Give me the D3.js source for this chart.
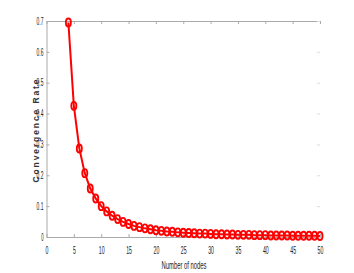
<!DOCTYPE html>
<html>
<head>
<meta charset="utf-8">
<script src="https://cdn.jsdelivr.net/npm/d3@7"></script>
<style>
  body { margin: 0; background: #fff; }
  text { font-family: "Liberation Sans Narrow", "Liberation Sans", Arial, sans-serif; fill: #222; }
</style>
</head>
<body>
<script>
// data
const nodes = d3.range(4, 51);
const rate = [0.695, 0.425, 0.287, 0.207, 0.157, 0.125, 0.100, 0.083, 0.069, 0.058,
  0.049, 0.042, 0.036, 0.032, 0.028, 0.025, 0.022, 0.020, 0.018, 0.017,
  0.015, 0.014, 0.013, 0.012, 0.011, 0.011, 0.010, 0.009, 0.009, 0.008,
  0.008, 0.007, 0.007, 0.007, 0.006, 0.006, 0.006, 0.005, 0.005, 0.005,
  0.005, 0.004, 0.004, 0.004, 0.004, 0.004, 0.003];
const xTicks = [0, 5, 10, 15, 20, 25, 30, 35, 40, 45, 50];
const yTicks = [0, 0.1, 0.2, 0.3, 0.4, 0.5, 0.6, 0.7];

const width = 354, height = 273;
const plotLeft = 46.5, plotRight = 320, plotTop = 21, plotBottom = 237;
const axisColor = '#aaa';

const svg = d3.select('body').append('svg')
  .attr('width', width)
  .attr('height', height);

const x = d3.scaleLinear().domain([0, 50]).range([plotLeft, plotRight]);
const y = d3.scaleLinear().domain([0, 0.7]).range([plotBottom, plotTop]);

// squeeze labels to look like the narrow MATLAB font
function squeeze(sel, perChar) {
  sel.each(function() {
    const t = d3.select(this);
    const n = t.text().length;
    t.attr('textLength', n * perChar).attr('lengthAdjust', 'spacingAndGlyphs');
  });
}

// bottom axis
const xAxis = svg.append('g')
  .attr('transform', 'translate(0,' + plotBottom + ')')
  .call(d3.axisBottom(x).tickValues(xTicks).tickFormat(d3.format('d'))
    .tickSizeInner(-3).tickSizeOuter(0).tickPadding(10));
xAxis.selectAll('text').attr('font-size', 10).call(squeeze, 2.9);

// left axis
const yAxis = svg.append('g')
  .attr('transform', 'translate(' + plotLeft + ',0)')
  .call(d3.axisLeft(y).tickValues(yTicks).tickFormat(d => d === 0 ? '0' : d3.format('.1f')(d))
    .tickSizeInner(-3).tickSizeOuter(0).tickPadding(3));
yAxis.selectAll('text').attr('font-size', 10).call(squeeze, 2.3);

// top border with ticks
svg.append('g')
  .attr('transform', 'translate(0,' + plotTop + ')')
  .call(d3.axisTop(x).tickValues(xTicks).tickFormat('')
    .tickSizeInner(-3).tickSizeOuter(0));

// right side ticks only
const rAxis = svg.append('g')
  .attr('class', 'right-ticks')
  .attr('transform', 'translate(' + plotRight + ',0)')
  .call(d3.axisRight(y).tickValues(yTicks).tickFormat('')
    .tickSizeInner(-3).tickSizeOuter(0));
rAxis.select('.domain').remove();

svg.selectAll('.domain, .tick line').attr('stroke', axisColor);
rAxis.selectAll('.tick line').attr('stroke', '#ddd');

// axis titles
svg.append('text')
  .attr('x', 184).attr('y', 269)
  .attr('text-anchor', 'middle')
  .attr('font-size', 10)
  .attr('textLength', 45).attr('lengthAdjust', 'spacingAndGlyphs')
  .text('Number of nodes');

svg.append('text')
  .attr('transform', 'translate(38.5,131) rotate(-90)')
  .attr('text-anchor', 'middle')
  .attr('font-size', 8.5)
  .attr('font-weight', 'bold')
  .style('font-family', '"Liberation Sans", Arial, sans-serif')
  .style('fill', '#333')
  .attr('textLength', 103).attr('lengthAdjust', 'spacing')
  .text('Convergence Rate');

// series
const pts = nodes.map((n, i) => ({ n: n, v: rate[i] }));

svg.append('path')
  .datum(pts)
  .attr('fill', 'none')
  .attr('stroke', '#ff0000')
  .attr('stroke-width', 2)
  .attr('d', d3.line().x(d => x(d.n)).y(d => y(d.v)));

svg.selectAll('.marker')
  .data(pts)
  .enter().append('ellipse')
  .attr('class', 'marker')
  .attr('cx', d => x(d.n))
  .attr('cy', d => y(d.v))
  .attr('rx', 2.5)
  .attr('ry', 4)
  .attr('fill', 'none')
  .attr('stroke', '#ff0000')
  .attr('stroke-width', 1.9);
</script>
</body>
</html>
